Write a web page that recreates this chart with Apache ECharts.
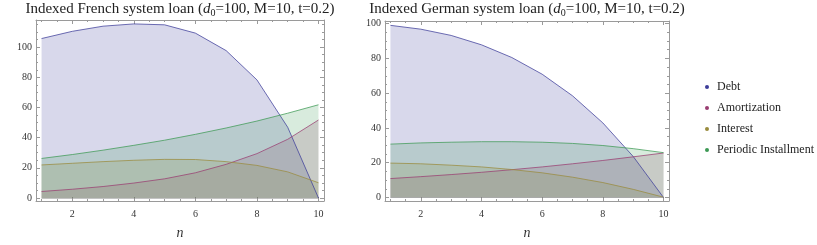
<!DOCTYPE html>
<html>
<head>
<meta charset="utf-8">
<script src="https://cdn.jsdelivr.net/npm/echarts@6/dist/echarts.min.js"></script>
<style>
html,body{margin:0;padding:0;background:#fff;}
#c{width:817px;height:245px;}
</style>
</head>
<body>
<div id="c"></div>
<script>
// ---- data ----
const periods = [1, 2, 3, 4, 5, 6, 7, 8, 9, 10];
const seriesNames = ['Debt', 'Amortization', 'Interest', 'Periodic Installment'];

const frenchDebt = [105.7, 110.5, 113.9, 115.4, 114.8, 109.3, 97.7, 78.3, 46.9, 0];
const frenchAmortization = [4.3, 5.8, 7.6, 9.9, 12.7, 16.7, 22.3, 29.4, 38.9, 51.7];
const frenchInterest = [21.9, 23.0, 24.1, 25.0, 25.6, 25.5, 24.1, 21.6, 17.3, 10.1];
const frenchInstallment = [26.2, 28.8, 31.7, 34.9, 38.3, 42.2, 46.4, 51.0, 56.2, 61.8];

const germanDebt = [99.0, 96.8, 93.2, 87.8, 80.5, 70.9, 58.5, 42.9, 23.6, 0];
const germanAmortization = [10.9, 12.0, 13.2, 14.5, 16.0, 17.6, 19.4, 21.3, 23.4, 25.6];
const germanInterest = [19.8, 19.4, 18.6, 17.6, 16.1, 14.2, 11.7, 8.6, 4.7, 0.2];
const germanInstallment = [30.7, 31.4, 31.8, 32.1, 32.1, 31.8, 31.1, 29.9, 28.1, 25.8];

const xMajorTicks = [2, 4, 6, 8, 10];
const xMinorTicks = [1, 1.5, 2.5, 3, 3.5, 4.5, 5, 5.5, 6.5, 7, 7.5, 8.5, 9, 9.5];
const yMajorTicks = [0, 20, 40, 60, 80, 100];
const yMinorTicksLeft = [5, 10, 15, 25, 30, 35, 45, 50, 55, 65, 70, 75, 85, 90, 95, 105, 110, 115];
const yMinorTicksRight = [5, 10, 15, 25, 30, 35, 45, 50, 55, 65, 70, 75, 85, 90, 95];

// ---- styling ----
const colors = ['rgb(61,61,153)', 'rgb(153,61,113)', 'rgb(153,139,61)', 'rgb(61,153,84)'];
const FONT = "'Liberation Serif', 'DejaVu Serif', serif";
const frameColor = '#9a9a9a';

function makeX(grid, min, max) {
  const base = {type: 'value', gridIndex: grid, min: min, max: max, splitLine: {show: false}};
  return [
    Object.assign({}, base, {
      position: 'bottom',
      axisLine: {show: true, onZero: false, lineStyle: {color: frameColor, width: 1}},
      axisTick: {show: true, inside: true, length: 4, customValues: xMajorTicks, lineStyle: {color: frameColor}},
      axisLabel: {show: true, customValues: xMajorTicks, margin: 8, color: '#333', fontFamily: FONT, fontSize: 10},
      name: 'n', nameLocation: 'middle', nameGap: 25,
      nameTextStyle: {fontFamily: FONT, fontStyle: 'italic', fontSize: 14, color: '#333'}
    }),
    Object.assign({}, base, {
      position: 'bottom',
      axisLine: {show: false, onZero: false},
      axisTick: {show: true, inside: true, length: 2, customValues: xMinorTicks, lineStyle: {color: frameColor}},
      axisLabel: {show: false}
    }),
    Object.assign({}, base, {
      position: 'top',
      axisLine: {show: true, onZero: false, lineStyle: {color: frameColor, width: 1}},
      axisTick: {show: true, inside: true, length: 4, customValues: xMajorTicks, lineStyle: {color: frameColor}},
      axisLabel: {show: false}
    }),
    Object.assign({}, base, {
      position: 'top',
      axisLine: {show: false, onZero: false},
      axisTick: {show: true, inside: true, length: 2, customValues: xMinorTicks, lineStyle: {color: frameColor}},
      axisLabel: {show: false}
    })
  ];
}

function makeY(grid, min, max, minor) {
  const base = {type: 'value', gridIndex: grid, min: min, max: max, splitLine: {show: false}};
  return [
    Object.assign({}, base, {
      position: 'left',
      axisLine: {show: true, onZero: false, lineStyle: {color: frameColor, width: 1}},
      axisTick: {show: true, inside: true, length: 4, customValues: yMajorTicks, lineStyle: {color: frameColor}},
      axisLabel: {show: true, customValues: yMajorTicks, margin: 4, color: '#333', fontFamily: FONT, fontSize: 10}
    }),
    Object.assign({}, base, {
      position: 'left',
      axisLine: {show: false, onZero: false},
      axisTick: {show: true, inside: true, length: 2, customValues: minor, lineStyle: {color: frameColor}},
      axisLabel: {show: false}
    }),
    Object.assign({}, base, {
      position: 'right',
      axisLine: {show: true, onZero: false, lineStyle: {color: frameColor, width: 1}},
      axisTick: {show: true, inside: true, length: 4, customValues: yMajorTicks, lineStyle: {color: frameColor}},
      axisLabel: {show: false}
    }),
    Object.assign({}, base, {
      position: 'right',
      axisLine: {show: false, onZero: false},
      axisTick: {show: true, inside: true, length: 2, customValues: minor, lineStyle: {color: frameColor}},
      axisLabel: {show: false}
    })
  ];
}

function makeSeries(grid, arrays) {
  return arrays.map(function (arr, i) {
    const s = {
      name: seriesNames[i],
      type: 'line',
      xAxisIndex: grid * 4,
      yAxisIndex: grid * 4,
      symbol: 'none',
      smooth: false,
      data: periods.map(function (p, k) { return [p, arr[k]]; }),
      lineStyle: {color: colors[i], width: 1, opacity: 0.75},
      itemStyle: {color: colors[i]},
      areaStyle: {color: colors[i], opacity: 0.2, origin: 'auto'},
      emphasis: {disabled: true},
      animation: false
    };
    if (i === 0) {
      s.markLine = {
        silent: true, symbol: 'none', label: {show: false},
        lineStyle: {color: '#888', width: 1, type: 'solid', opacity: 0.5},
        data: [[{coord: [periods[0], 0]}, {coord: [periods[periods.length - 1], 0]}]]
      };
    }
    return s;
  });
}

const chart = echarts.init(document.getElementById('c'), null, {renderer: 'canvas'});

const titleRich = {
  i: {fontFamily: FONT, fontStyle: 'italic', fontSize: 15, lineHeight: 18, color: '#222'},
  sub: {fontFamily: FONT, fontSize: 10, lineHeight: 12, verticalAlign: 'bottom', color: '#222'}
};

chart.setOption({
  animation: false,
  backgroundColor: '#fff',
  grid: [
    {left: 36, top: 20, width: 288, height: 188, containLabel: false},
    {left: 385, top: 21, width: 284, height: 186.5, containLabel: false}
  ],
  xAxis: makeX(0, 0.82, 10.18).concat(makeX(1, 0.82, 10.18)),
  yAxis: makeY(0, -2, 118, yMinorTicksLeft).concat(makeY(1, -2, 101.5, yMinorTicksRight)),
  legend: {
    orient: 'vertical',
    left: 705, top: 81,
    padding: 0,
    itemGap: 9,
    icon: 'circle',
    itemWidth: 4, itemHeight: 4,
    selectedMode: false,
    data: seriesNames.map(function (n, i) { return {name: n, itemStyle: {color: colors[i]}}; }),
    textStyle: {fontFamily: FONT, fontSize: 12, color: '#222', padding: [0, 0, 0, 3]}
  },
  graphic: [
    {
      type: 'text', x: 180, y: 0,
      style: {
        text: 'Indexed French system loan ({i|d}{sub|0}=100, M=10, t=0.2)',
        fontFamily: FONT, fontSize: 15, lineHeight: 18, fill: '#222',
        align: 'center', verticalAlign: 'top', rich: titleRich
      }
    },
    {
      type: 'text', x: 527, y: 0,
      style: {
        text: 'Indexed German system loan ({i|d}{sub|0}=100, M=10, t=0.2)',
        fontFamily: FONT, fontSize: 15, lineHeight: 18, fill: '#222',
        align: 'center', verticalAlign: 'top', rich: titleRich
      }
    }
  ],
  series: makeSeries(0, [frenchDebt, frenchAmortization, frenchInterest, frenchInstallment])
    .concat(makeSeries(1, [germanDebt, germanAmortization, germanInterest, germanInstallment]))
});
</script>
</body>
</html>
